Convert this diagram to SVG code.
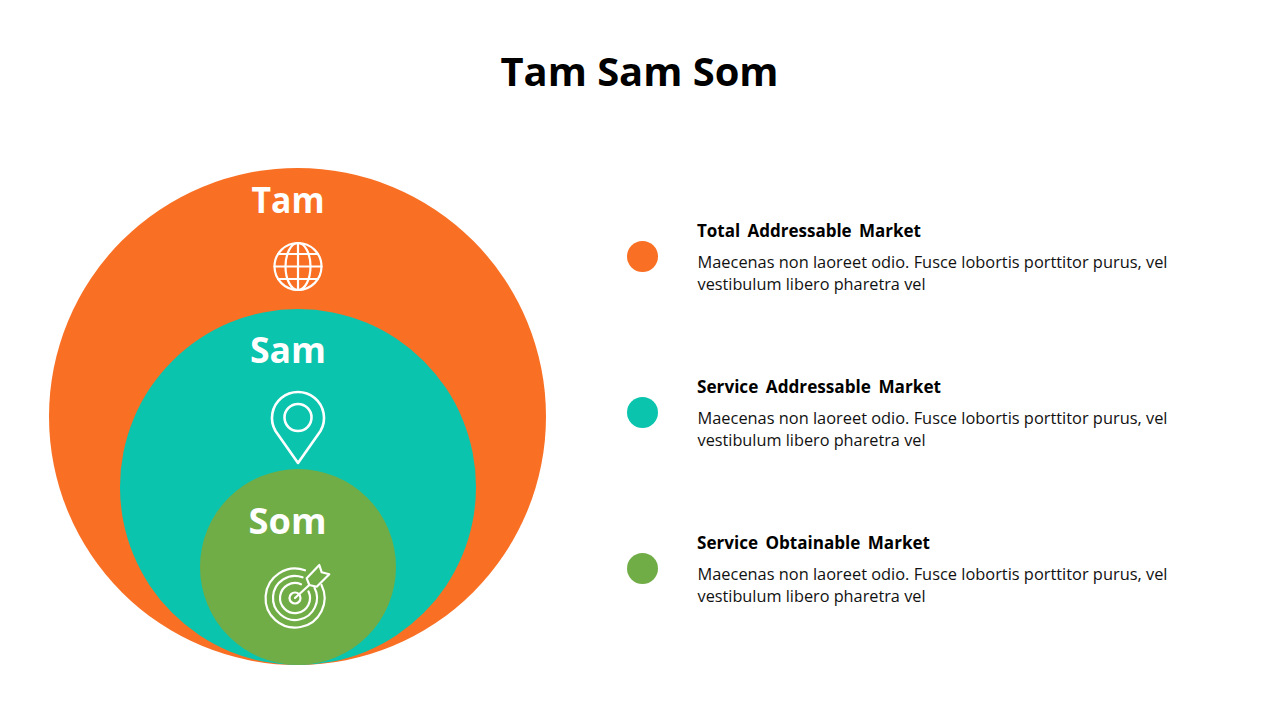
<svg xmlns="http://www.w3.org/2000/svg" width="1280" height="720" viewBox="0 0 1280 720">
<style>
text{font-family:"Open Sans","Noto Sans","Liberation Sans",sans-serif}
.title{font-size:40px;font-weight:700;fill:#000}
.big{font-size:36px;font-weight:700;fill:#fff}
.h{font-size:17px;font-weight:700;fill:#000;word-spacing:3px}
.b{font-size:16px;fill:#111}
.ic{fill:none;stroke:#fff;stroke-width:2.2;stroke-linecap:round;stroke-linejoin:round}
.o{fill:#f96f23}.t{fill:#0ac4ae}.g{fill:#70ad47}
</style>
<rect width="1280" height="720" fill="#fff"/>
<text class="title" x="639.5" y="86" text-anchor="middle" textLength="278" lengthAdjust="spacingAndGlyphs">Tam Sam Som</text>
<g id="node-tam">
<circle class="o" cx="297.5" cy="416.5" r="248.5"/>
<text class="big" x="288" y="213" text-anchor="middle" textLength="73" lengthAdjust="spacingAndGlyphs">Tam</text>
<g class="ic">
<circle cx="298" cy="266.500" r="23.500"/>
<ellipse cx="298" cy="266.500" rx="12.500" ry="23.500"/>
<path d="M298 243V290M274.500 266.500H321.500M278 254H318M278 279H318"/>
</g>
</g>
<g id="node-sam">
<circle class="t" cx="298" cy="487" r="178"/>
<text class="big" x="288" y="363" text-anchor="middle" textLength="76" lengthAdjust="spacingAndGlyphs">Sam</text>
<g class="ic">
<path d="M298 463L275.500 431A26 26 0 1 1 320.500 431Z" stroke-width="2.600"/>
<circle cx="298" cy="417.500" r="13.500" stroke-width="2.600"/>
</g>
</g>
<g id="node-som">
<circle class="g" cx="298" cy="567" r="98"/>
<text class="big" x="287.500" y="534" text-anchor="middle" textLength="78" lengthAdjust="spacingAndGlyphs">Som</text>
<g class="ic">
<path d="M305 570.300A29.500 29.500 0 1 0 321.500 585M302.500 577.300A22 22 0 1 0 314.500 587.800M301 584.300A15 15 0 1 0 308.500 591.500"/>
<circle cx="295" cy="598" r="5.500"/>
<path d="M295 598L309.300 585M306.700 578.300L319.300 565L321.700 572.300L329.300 574.300L316.700 586.700L309.300 585Z"/>
</g>
</g>
<g id="legend-tam">
<circle class="o" cx="642.500" cy="256.500" r="15.500"/>
<text class="h" x="697" y="237" textLength="224" lengthAdjust="spacing">Total Addressable Market</text>
<text class="b" x="697.500" y="268" textLength="470" lengthAdjust="spacingAndGlyphs">Maecenas non laoreet odio. Fusce lobortis porttitor purus, vel</text>
<text class="b" x="697.500" y="290" textLength="228" lengthAdjust="spacingAndGlyphs">vestibulum libero pharetra vel</text>
</g>
<g id="legend-sam">
<circle class="t" cx="642.500" cy="412.500" r="15.500"/>
<text class="h" x="697" y="393" textLength="244" lengthAdjust="spacingAndGlyphs">Service Addressable Market</text>
<text class="b" x="697.500" y="424" textLength="470" lengthAdjust="spacingAndGlyphs">Maecenas non laoreet odio. Fusce lobortis porttitor purus, vel</text>
<text class="b" x="697.500" y="446" textLength="228" lengthAdjust="spacingAndGlyphs">vestibulum libero pharetra vel</text>
</g>
<g id="legend-som">
<circle class="g" cx="642.500" cy="568.500" r="15.500"/>
<text class="h" x="697" y="549" textLength="233" lengthAdjust="spacingAndGlyphs">Service Obtainable Market</text>
<text class="b" x="697.500" y="580" textLength="470" lengthAdjust="spacingAndGlyphs">Maecenas non laoreet odio. Fusce lobortis porttitor purus, vel</text>
<text class="b" x="697.500" y="602" textLength="228" lengthAdjust="spacingAndGlyphs">vestibulum libero pharetra vel</text>
</g>
<g id="connectors"/>
</svg>
